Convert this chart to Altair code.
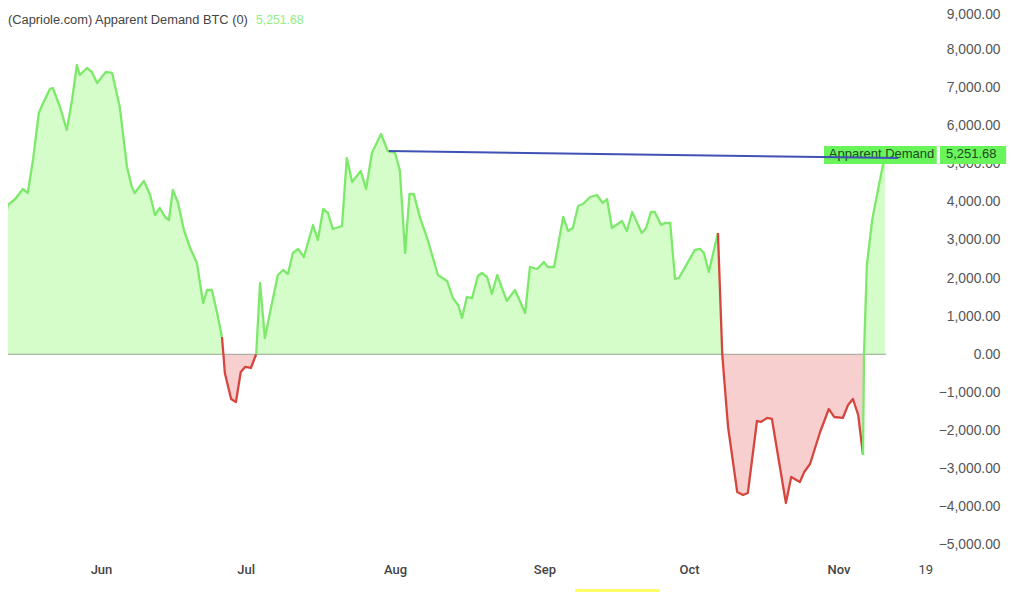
import altair as alt
import pandas as pd

BASE = pd.Timestamp("2023-06-01")

# Days after 1 June and Apparent Demand values
days = [-21.0,-20.1,-19.3,-17.8,-16.2,-15.2,-14.1,-12.9,-12.0,-10.6,-10.0,-8.5,-7.1,-6.0,-5.0,-4.4,-2.9,-1.9,-0.8,1.0,2.3,3.9,5.4,6.4,7.0,8.9,10.2,11.2,12.2,13.3,14.1,14.9,16.0,17.2,18.5,19.9,21.2,22.0,23.0,24.1,25.1,25.4,25.7,27.0,28.0,29.0,29.9,31.1,32.2,33.0,34.0,35.3,36.7,37.8,38.8,39.8,40.9,42.1,44.0,45.0,46.1,47.1,48.1,50.0,51.0,52.1,53.9,55.0,56.2,58.1,59.5,61.0,62.0,63.1,64.0,64.9,66.2,67.8,69.9,71.8,73.0,74.1,74.9,75.9,77.0,78.2,79.0,80.1,81.1,82.2,84.2,85.9,88.0,89.0,90.5,91.9,92.7,94.0,95.9,96.9,97.9,99.0,100.0,101.5,102.9,104.1,105.0,106.0,108.1,109.1,110.2,112.2,113.1,114.1,114.9,116.2,117.0,118.1,119.1,119.9,123.2,124.3,125.1,126.1,128.0,128.9,129.2,130.1,132.0,133.2,134.2,136.1,136.9,138.2,139.2,142.1,143.2,145.0,145.9,147.1,149.2,151.0,152.1,153.9,155.0,156.0,157.1,158.1,158.3,158.9,160.0,161.2,162.7]
values = [3180,3416,3915,4072,4334,4229,5095,6327,6589,6956,6982,6484,5881,6668,7585,7323,7507,7402,7113,7402,7376,6484,4911,4387,4229,4544,4177,3652,3836,3600,3521,4308,3967,3259,2787,2394,1345,1686,1686,1083,454,0,-490,-1172,-1251,-464,-333,-359,0,1870,427,1240,2079,2210,2105,2656,2761,2551,3390,2997,3810,3705,3285,3364,5147,4518,4806,4334,5278,5776,5330,5278,4832,2656,4203,4203,3574,2997,2079,1922,1476,1293,952,1502,1476,2053,2132,2027,1581,2079,1398,1686,1083,2289,2236,2420,2289,2289,3600,3233,3312,3888,3941,4124,4177,3967,4072,3312,3495,3233,3731,3180,3312,3731,3731,3390,3443,3443,1974,2001,2735,2761,2656,2158,3180,0,-490,-1906,-3611,-3689,-3637,-1749,-1775,-1670,-1696,-3899,-3217,-3348,-3086,-2876,-2037,-1434,-1644,-1670,-1329,-1172,-1592,-2640,0,2341,3521,4308,5251]

# Day boundaries where the line colour changes
breaks = [25.1, 32.2, 128.0, 158.1]
kinds = ["green", "red", "green", "red", "green"]

y_ticks = list(range(-5000, 10000, 1000))
x_ticks = [0, 30, 61, 92, 122, 153, 171]
y_domain = [-5289, 9080]
x_domain = [-19.29, 174.07]

trend_days = [59.7, 165.4]
trend_vals = [5330, 5147]
zero_days = [-19.29, 162.9]

tag_left_days = [150.0, 173.4]
tag_right_days = [174.07, 187.8]
tag_vals = [5461, 4990]
tag_name_day = 151.0
tag_value_day = 175.3
tag_center = 5251.68

title_text = "(Capriole.com) Apparent Demand BTC (0)"
title_value = "5,251.68"
tag_name = "Apparent Demand"
tag_value = "5,251.68"

GREEN_LINE = "#7DE96B"
RED_LINE = "#D5473E"
GREEN_FILL = "#D4FDCA"
RED_FILL = "#F8CFCF"
TAG = "#69F45B"


def to_date(d):
    return BASE + pd.to_timedelta(d, unit="D")


def iso(d):
    return to_date(d).strftime("%Y-%m-%dT%H:%M:%S")


df = pd.DataFrame({"date": [to_date(d) for d in days], "day": days, "value": values})
df["pos"] = df["value"].clip(lower=0)
df["neg"] = df["value"].clip(upper=0)
df["base"] = 0

segments = []
edges = [min(days)] + breaks + [max(days)]
for i, kind in enumerate(kinds):
    part = df[(df["day"] >= edges[i]) & (df["day"] <= edges[i + 1])][["date", "value"]].copy()
    part["seg"] = i
    part["kind"] = kind
    segments.append(part)
line_df = pd.concat(segments)

x_enc = alt.X(
    "date:T",
    scale=alt.Scale(domain=[iso(x_domain[0]), iso(x_domain[1])]),
    axis=alt.Axis(
        values=[iso(d) for d in x_ticks],
        labelExpr="date(datum.value) == 19 ? '19' : timeFormat(datum.value, '%b')",
        title=None, domain=False, ticks=False, grid=False,
        labelFont="Roboto", labelFontSize=13, labelColor="#444444",
        labelFontWeight=alt.condition("date(datum.value) == 19", alt.value(400), alt.value(500)),
        labelPadding=7, labelFlush=False, labelOverlap=False, tickCount=20,
    ),
)
y_enc = alt.Y(
    "pos:Q",
    scale=alt.Scale(domain=y_domain, nice=False, zero=False),
    axis=alt.Axis(
        orient="right", values=y_ticks, format=",.2f", title=None,
        domain=False, ticks=False, grid=False, tickCount=30,
        labelFont="Liberation Sans", labelFontSize=13.8, labelColor="#555555",
        labelAlign="right", labelPadding=60, labelOverlap=False,
        labelOffset=alt.condition("datum.value == 9000", alt.value(3), alt.value(0)),
    ),
)

area_pos = alt.Chart(df).mark_area(color=GREEN_FILL, clip=True).encode(x=x_enc, y=y_enc, y2="base:Q")
area_neg = alt.Chart(df).mark_area(color=RED_FILL, clip=True).encode(
    x="date:T", y=alt.Y("neg:Q"), y2="base:Q"
)

zero_df = pd.DataFrame({"a": [to_date(zero_days[0])], "b": [to_date(zero_days[1])], "v": [0]})
zero_rule = alt.Chart(zero_df).mark_rule(color="#98A592", strokeWidth=1).encode(
    x="a:T", x2="b:T", y=alt.Y("v:Q")
)

line = alt.Chart(line_df).mark_line(strokeWidth=2.3, strokeJoin="round", clip=True).encode(
    x="date:T",
    y=alt.Y("value:Q"),
    detail="seg:N",
    color=alt.Color("kind:N", scale=alt.Scale(domain=["green", "red"], range=[GREEN_LINE, RED_LINE]), legend=None),
    order="date:T",
)

tag_df = pd.DataFrame({
    "a": [to_date(tag_left_days[0]), to_date(tag_right_days[0])],
    "b": [to_date(tag_left_days[1]), to_date(tag_right_days[1])],
    "top": [tag_vals[0]] * 2,
    "bot": [tag_vals[1]] * 2,
})
tag_rect = alt.Chart(tag_df).mark_rect(color=TAG).encode(
    x="a:T", x2="b:T", y=alt.Y("top:Q"), y2="bot:Q"
)
text_df = pd.DataFrame({
    "d": [to_date(tag_name_day), to_date(tag_value_day)],
    "v": [tag_center, tag_center],
    "t": [tag_name, tag_value],
})
tag_text = alt.Chart(text_df).mark_text(
    align="left", baseline="middle", font="Liberation Sans", fontSize=13, color="#1F4A22"
).encode(x="d:T", y=alt.Y("v:Q"), text="t:N")

trend_df = pd.DataFrame({"date": [to_date(d) for d in trend_days], "value": trend_vals})
trend = alt.Chart(trend_df).mark_line(color="#3F51B5", strokeWidth=2).encode(x="date:T", y=alt.Y("value:Q"))

title_mark = alt.Chart(pd.DataFrame({"t": [title_text]})).mark_text(
    align="left", baseline="middle", font="Liberation Sans", fontSize=12.85, color="#444444"
).encode(x=alt.value(0), y=alt.value(12), text="t:N")
value_mark = alt.Chart(pd.DataFrame({"t": [title_value]})).mark_text(
    align="left", baseline="middle", font="Liberation Sans", fontSize=12.2, color="#90EF80"
).encode(x=alt.value(248), y=alt.value(12), text="t:N")

strip = alt.Chart(pd.DataFrame({"k": [1]})).mark_rect(color="#FFFF66").encode(
    x=alt.value(567), x2=alt.value(652), y=alt.value(581), y2=alt.value(584)
)

chart = (
    alt.layer(area_pos, area_neg, zero_rule, line, tag_rect, tag_text, trend, title_mark, value_mark, strip)
    .properties(
        width=932, height=548,
        autosize=alt.AutoSizeParams(type="none"),
        padding={"left": 0, "top": 0, "right": 76, "bottom": 36},
    )
    .configure_view(stroke=None)
)

chart.save("out.html", embed_options={"renderer": "svg", "actions": False})
